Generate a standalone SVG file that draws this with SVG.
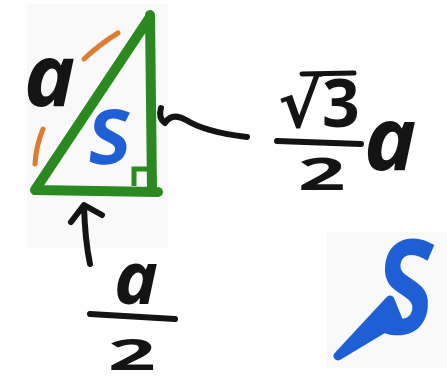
<svg xmlns="http://www.w3.org/2000/svg" width="447" height="390" viewBox="0 0 447 390">
<style>
.ink{fill:none;stroke:#141414;stroke-linecap:round;stroke-linejoin:round}
.hand{font-family:"Noto Sans","DejaVu Sans",sans-serif;font-style:italic;font-weight:bold;fill:#141414}
.up{font-style:normal}
.blue{fill:#1f5fd6}
.green{fill:none;stroke:#2b8a1f;stroke-width:10;stroke-linecap:round;stroke-linejoin:round}
.orange{fill:none;stroke:#e07b32;stroke-width:5;stroke-linecap:round}
</style>
<rect width="447" height="390" fill="#ffffff"/>
<g id="triangle-panel">
<rect x="27" y="4" width="141" height="244" fill="#f9f9f9"/>
<path class="green" d="M150,15 L152,190 M35,190 L158,192 M35,190 L150,17"/>
<path d="M134,186 L134,169 L149,169" fill="none" stroke="#2b8a1f" stroke-width="5"/>
<path class="orange" d="M84,59 Q100,44 118,33"/>
<path class="orange" d="M43,129 Q36,146 35,164"/>
<text class="hand" x="24" y="106" font-size="86">a</text>
<text class="hand blue up" transform="translate(86,164) skewX(-6)" font-size="76">S</text>
</g>
<g id="label-height">
<path class="ink" stroke-width="6" d="M161,108 Q158,118 165,123 Q172,112 186,120 Q205,132 247,137"/>
<text class="hand up" x="278" y="127" font-size="66">√3</text>
<path class="ink" stroke-width="5" d="M302,74 L354,73"/>
<path class="ink" stroke-width="6" d="M277,141 L361,144"/>
<text class="hand up" transform="translate(298,190) scale(1.6,0.85)" font-size="52">2</text>
<text class="hand" x="364" y="170" font-size="88">a</text>
</g>
<g id="label-base">
<path class="ink" stroke-width="6" d="M84,206 Q85,240 90,264 M71,222 L84,205 L102,215"/>
<text class="hand" x="114" y="304" font-size="74">a</text>
<path class="ink" stroke-width="6" d="M90,314 L175,319"/>
<text class="hand up" transform="translate(108,370) scale(1.9,0.98)" font-size="44">2</text>
</g>
<g id="big-s">
<rect x="327" y="232" width="120" height="136" fill="#f9f9f9"/>
<text class="hand blue up" transform="translate(372,334) scale(0.76,0.97) skewX(-8)" font-size="136">S</text>
<path d="M338,356 L390,300 L398,320 Z" fill="#1f5fd6" stroke="#1f5fd6" stroke-width="9" stroke-linejoin="round"/>
</g>
</svg>
